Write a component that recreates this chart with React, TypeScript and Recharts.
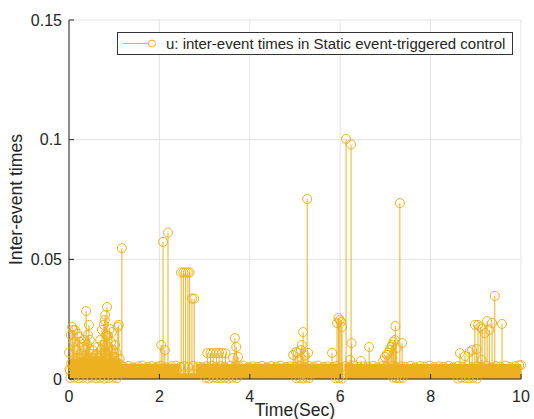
import React from "react";
import {
  ComposedChart,
  Area,
  Scatter,
  ErrorBar,
  XAxis,
  YAxis,
  CartesianGrid,
} from "recharts";

const GOLD = "#EDB120";
const INK = "#262626";
const FONT = '"Liberation Sans", Arial, Helvetica, sans-serif';

const xTicks = [0, 2, 4, 6, 8, 10];
const yTicks = [0, 0.05, 0.1, 0.15];

// distinct stems: [time, inter-event time]
const spikes: [number, number][] = [
  [1.17, 0.0547], [2.04, 0.0142], [2.08, 0.0573], [2.12, 0.0121], [2.19, 0.0612],
  [2.48, 0.0445], [2.53, 0.0445], [2.58, 0.0445], [2.63, 0.0445], [2.67, 0.0445],
  [2.72, 0.0336], [2.77, 0.0336],
  [3.06, 0.0108], [3.13, 0.0108], [3.19, 0.0109], [3.26, 0.0108], [3.32, 0.0109],
  [3.39, 0.0108], [3.46, 0.0107],
  [3.63, 0.0088], [3.67, 0.0171], [3.7, 0.0134], [3.74, 0.0092],
  [4.96, 0.01], [5.02, 0.0113], [5.06, 0.0109], [5.09, 0.0079], [5.13, 0.0121],
  [5.15, 0.0142], [5.18, 0.0196], [5.22, 0.0098], [5.27, 0.0752], [5.29, 0.0109],
  [5.82, 0.0109], [5.93, 0.0234], [5.96, 0.0255], [5.99, 0.0246], [6.02, 0.0238],
  [6.04, 0.0217], [6.13, 0.1003], [6.22, 0.008], [6.24, 0.098], [6.25, 0.015],
  [6.46, 0.0075], [6.64, 0.0134],
  [6.95, 0.0075], [6.99, 0.0092], [7.03, 0.0101], [7.06, 0.0109], [7.1, 0.0121],
  [7.13, 0.0134], [7.15, 0.0142], [7.18, 0.0155], [7.21, 0.0163], [7.22, 0.0221],
  [7.25, 0.013], [7.32, 0.0735], [7.37, 0.015],
  [8.65, 0.0108], [8.76, 0.0096], [8.86, 0.0113], [8.92, 0.0121], [8.98, 0.0226],
  [9.02, 0.0125], [9.05, 0.0226], [9.1, 0.0217], [9.13, 0.008], [9.14, 0.0209],
  [9.2, 0.0192], [9.25, 0.0242], [9.3, 0.0205], [9.36, 0.0234], [9.42, 0.0347],
  [9.58, 0.023], [10.0, 0.0058],
];

// the busy start, 0 - 1.15 s
const early: [number, number][] = [
  [0.0, 0.011], [0.01, 0.004], [0.02, 0.0035], [0.04, 0.0184], [0.05, 0.0065],
  [0.07, 0.0217], [0.09, 0.0205], [0.1, 0.0045], [0.11, 0.0155], [0.13, 0.0205],
  [0.15, 0.0075], [0.16, 0.0121], [0.18, 0.019], [0.19, 0.003], [0.2, 0.009],
  [0.22, 0.0176], [0.23, 0.0058], [0.24, 0.0155], [0.26, 0.0085], [0.27, 0.0105],
  [0.29, 0.007], [0.3, 0.0042], [0.31, 0.0134], [0.33, 0.0163], [0.34, 0.0095],
  [0.36, 0.0121], [0.37, 0.006], [0.38, 0.0284], [0.4, 0.0142], [0.41, 0.0078],
  [0.42, 0.0184], [0.44, 0.0226], [0.45, 0.0052], [0.46, 0.0163], [0.48, 0.0105],
  [0.49, 0.009], [0.5, 0.0075], [0.52, 0.004], [0.53, 0.012], [0.55, 0.0068],
  [0.56, 0.009], [0.58, 0.0063], [0.59, 0.0098], [0.61, 0.0105], [0.62, 0.0047],
  [0.63, 0.0134], [0.65, 0.0072], [0.66, 0.0088], [0.68, 0.0055], [0.69, 0.0163],
  [0.71, 0.0121], [0.72, 0.0098], [0.73, 0.0205], [0.75, 0.0142], [0.76, 0.0065],
  [0.77, 0.0226], [0.79, 0.0246], [0.8, 0.0268], [0.81, 0.0105], [0.82, 0.0184],
  [0.84, 0.0301], [0.85, 0.0083], [0.86, 0.018], [0.88, 0.0134], [0.89, 0.006],
  [0.9, 0.0209], [0.92, 0.0115], [0.93, 0.0155], [0.95, 0.0196], [0.96, 0.0068],
  [0.97, 0.0121], [0.99, 0.005], [1.0, 0.0092], [1.02, 0.0142], [1.03, 0.0075],
  [1.05, 0.0109], [1.06, 0.0058], [1.08, 0.0217], [1.09, 0.0045], [1.1, 0.0226],
  [1.12, 0.0084], [1.13, 0.006],
];

// rings riding on top of the dense band
const bandDotT = [
  1.21, 1.32, 1.41, 1.53, 1.62, 1.74, 1.83, 1.95, 2.02, 2.15, 2.27, 2.36, 2.46, 2.55,
  2.64, 2.75, 2.86, 2.95, 3.04, 3.16, 3.24, 3.35, 3.44, 3.56, 3.65, 3.77, 3.86, 3.97,
  4.06, 4.18, 4.27, 4.38, 4.47, 4.59, 4.68, 4.8, 4.89, 5.01, 5.11, 5.2, 5.31, 5.42,
  5.51, 5.63, 5.72, 5.84, 5.93, 6.03, 6.11, 6.2, 6.31, 6.41, 6.52, 6.61, 6.73, 6.82,
  6.94, 7.03, 7.15, 7.24, 7.35, 7.44, 7.56, 7.65, 7.77, 7.86, 7.98, 8.07, 8.19, 8.28,
  8.4, 8.49, 8.61, 8.7, 8.82, 8.91, 9.03, 9.12, 9.24, 9.33, 9.45, 9.54, 9.66, 9.75,
  9.87, 9.96,
];
const bandDotV = [
  0.0052, 0.0055, 0.0049, 0.0053, 0.0056, 0.005, 0.0054, 0.0051, 0.0055, 0.0049, 0.0053,
  0.0056, 0.0051, 0.0054, 0.005, 0.0055, 0.0052, 0.0049, 0.0053, 0.0056, 0.005, 0.0054,
  0.0051, 0.0055, 0.0049, 0.0052, 0.0056, 0.005, 0.0053, 0.0051, 0.0055, 0.0049, 0.0054,
  0.0052, 0.0056, 0.005, 0.0053, 0.0051, 0.0055, 0.0049, 0.0054, 0.0052, 0.0056, 0.005,
  0.0053, 0.0051, 0.0055, 0.0049, 0.0054, 0.0052, 0.0056, 0.005, 0.0053, 0.0051, 0.0055,
  0.0049, 0.0054, 0.0052, 0.0056, 0.005, 0.0053, 0.0051, 0.0055, 0.0049, 0.0054, 0.0052,
  0.0056, 0.005, 0.0053, 0.0051, 0.0055, 0.0049, 0.0054, 0.0052, 0.0056, 0.005, 0.0053,
  0.0051, 0.0055, 0.0049, 0.0054, 0.0052, 0.0056, 0.005, 0.0053, 0.0057,
];

// events with almost no gap (rings sit on the axis)
const lowT = [
  0.03, 0.12, 0.21, 0.3, 0.41, 0.5, 0.6, 0.69, 0.78, 0.88, 0.97, 1.06, 3.02, 3.1, 3.19,
  3.27, 3.36, 3.45, 3.53, 3.62, 3.71, 5.03, 5.1, 5.18, 5.26, 5.32, 5.9, 5.97, 6.04, 7.17,
  7.24, 7.31, 7.38, 8.6, 8.68, 8.77, 8.85, 8.94, 9.03,
];
const lowV = [
  0.0004, 0.0006, 0.0003, 0.0005, 0.0002, 0.0006, 0.0003, 0.0005, 0.0002, 0.0004, 0.0006,
  0.0003, 0.0005, 0.0002, 0.0006, 0.0004, 0.0003, 0.0005, 0.0002, 0.0006, 0.0004, 0.0003,
  0.0005, 0.0002, 0.0006, 0.0004, 0.0003, 0.0005, 0.0002, 0.0006, 0.0004, 0.0003, 0.0005,
  0.0002, 0.0006, 0.0004, 0.0003, 0.0005, 0.0002,
];

// envelope of the solid band of tiny inter-event times
const bandT = [0, 1.15, 2.45, 2.8, 6.07, 6.1, 10];
const bandTop = [0.0085, 0.0064, 0.0024, 0.0064, 0, 0.0063, 0.0063];

const bandRows = bandT.map((t, i) => ({ t, top: bandTop[i] }));

const stemRows = [
  ...bandDotT.map((t, i) => [t, bandDotV[i]] as [number, number]),
  ...lowT.map((t, i) => [t, lowV[i]] as [number, number]),
  ...early,
  ...spikes,
].map(([t, v]) => ({ t, v, e: [v, 0] }));

const Ring = (props: any) => {
  const { cx, cy } = props;
  if (cx == null || cy == null) return null;
  return <circle cx={cx} cy={cy} r={4.5} fill="none" stroke={GOLD} strokeWidth={1} />;
};

const BottomTick = ({ x, y, payload }: any) => (
  <g>
    <line x1={x} x2={x} y1={y} y2={y - 5} stroke={INK} />
    <text x={x} y={y + 23} textAnchor="middle" fontSize={16} fill={INK} fontFamily={FONT}>
      {payload.value}
    </text>
  </g>
);

const LeftTick = ({ x, y, payload }: any) => (
  <g>
    <line x1={x} x2={x + 5} y1={y} y2={y} stroke={INK} />
    <text x={x - 7} y={y} dy="0.36em" textAnchor="end" fontSize={16} fill={INK} fontFamily={FONT}>
      {payload.value}
    </text>
  </g>
);

const TopTick = ({ x, y }: any) => <line x1={x} x2={x} y1={y} y2={y + 5} stroke={INK} />;
const RightTick = ({ x, y }: any) => <line x1={x} x2={x - 5} y1={y} y2={y} stroke={INK} />;

export default function App() {
  return (
    <div style={{ position: "absolute", left: 0, top: 0, width: 534, height: 419, background: "#fff" }}>
      <ComposedChart
        width={534}
        height={419}
        data={bandRows}
        margin={{ top: 20, right: 13, bottom: 0, left: 0 }}
      >
        <CartesianGrid stroke="#e3e3e3" />
        <XAxis
          dataKey="t"
          type="number"
          domain={[0, 10]}
          ticks={xTicks}
          height={40}
          tickSize={0}
          tickMargin={0}
          tickLine={false}
          tick={<BottomTick />}
          axisLine={{ stroke: INK }}
          label={() => (
            <text x={295} y={416} textAnchor="middle" fontSize={17.6} fill={INK} fontFamily={FONT}>
              Time(Sec)
            </text>
          )}
        />
        <XAxis
          xAxisId="top"
          orientation="top"
          type="number"
          domain={[0, 10]}
          allowDataOverflow
          ticks={xTicks}
          height={0}
          tickSize={0}
          tickMargin={0}
          tickLine={false}
          tick={<TopTick />}
          axisLine={{ stroke: INK }}
        />
        <YAxis
          type="number"
          domain={[0, 0.15]}
          ticks={yTicks}
          width={69}
          tickSize={0}
          tickMargin={0}
          tickLine={false}
          tick={<LeftTick />}
          axisLine={{ stroke: INK }}
          label={() => (
            <text
              transform="translate(22,199.5) rotate(-90)"
              textAnchor="middle"
              fontSize={17.6}
              fill={INK}
              fontFamily={FONT}
            >
              Inter-event times
            </text>
          )}
        />
        <YAxis
          yAxisId="right"
          orientation="right"
          type="number"
          domain={[0, 0.15]}
          allowDataOverflow
          ticks={yTicks}
          width={0}
          tickSize={0}
          tickMargin={0}
          tickLine={false}
          tick={<RightTick />}
          axisLine={{ stroke: INK }}
        />
        <Area
          type="stepAfter"
          dataKey="top"
          stroke="none"
          fill={GOLD}
          fillOpacity={1}
          dot={false}
          activeDot={false}
          isAnimationActive={false}
        />
        <Scatter data={stemRows} dataKey="v" shape={<Ring />} isAnimationActive={false}>
          <ErrorBar dataKey="e" direction="y" width={0} stroke={GOLD} strokeWidth={1} />
        </Scatter>
      </ComposedChart>
      <div
        style={{
          position: "absolute",
          left: 117,
          top: 32,
          width: 394,
          height: 21,
          border: "1px solid #333",
          background: "#fff",
          display: "flex",
          alignItems: "center",
          fontFamily: FONT,
          fontSize: 15,
          color: INK,
          whiteSpace: "nowrap",
        }}
      >
        <svg width={46} height={21} style={{ flex: "none" }}>
          <line x1={5} x2={31} y1={10.5} y2={10.5} stroke={GOLD} strokeWidth={1} />
          <circle cx={34} cy={10.5} r={3.5} fill="none" stroke={GOLD} strokeWidth={1} />
        </svg>
        <span style={{ marginLeft: 2 }}>u: inter-event times in Static event-triggered control</span>
      </div>
    </div>
  );
}
